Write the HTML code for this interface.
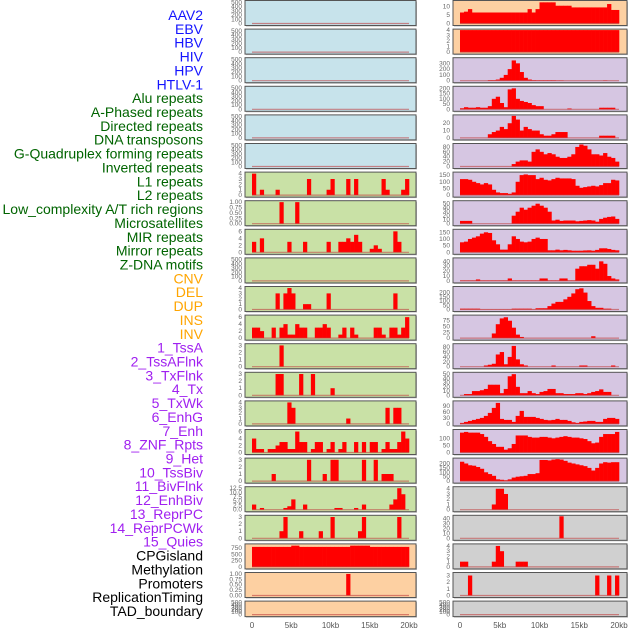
<!DOCTYPE html>
<html><head><meta charset="utf-8">
<style>
html,body{margin:0;padding:0;background:#fff;}
svg{display:block;font-family:"Liberation Sans",sans-serif;}
</style></head>
<body>
<svg id="chart" width="630" height="630" viewBox="0 0 630 630" xmlns="http://www.w3.org/2000/svg"></svg>
<script>
const labels = ["AAV2","EBV","HBV","HIV","HPV","HTLV-1","Alu repeats","A-Phased repeats","Directed repeats","DNA transposons","G-Quadruplex forming repeats","Inverted repeats","L1 repeats","L2 repeats","Low_complexity A/T rich regions","Microsatellites","MIR repeats","Mirror repeats","Z-DNA motifs","CNV","DEL","DUP","INS","INV","1_TssA","2_TssAFlnk","3_TxFlnk","4_Tx","5_TxWk","6_EnhG","7_Enh","8_ZNF_Rpts","9_Het","10_TssBiv","11_BivFlnk","12_EnhBiv","13_ReprPC","14_ReprPCWk","15_Quies","CPGisland","Methylation","Promoters","ReplicationTiming","TAD_boundary"];
const labelGroups = [6,13,5,15,5];
const groupColors = ["#1414ff","#006400","#ffa500","#a020f0","#000000"];
const xTicks = [0,5000,10000,15000,20000];
const xTickLabels = ["0","5kb","10kb","15kb","20kb"];

// Left column series (40 bins of 500 bp)
const L6 = [4,0,1,0,0,0,1,0,0,0,0,0,0,0,3,0,0,0,0,1,3,0,0,0,3,0,3,0,0,0,0,0,0,3,1,0,0,0,1,3];
const L7 = [0,0,0,0,0,0,0,1,0,0,0,1,0,0,0,0,0,0,0,0,0,0,0,0,0,0,0,0,0,0,0,0,0,0,0,0,0,0,0,0];
const L8 = [3,0,4,0,0,0,0,0,0,3,0,0,0,3,0,0,0,0,0,3,0,0,3,3,4,3,5,3,0,0,1,2,1,0,0,0,6,3,0,0];
const L10 = [0,0,0,0,0,0,3,0,3,4,3,0,0,1,1,0,0,0,0,3,0,0,0,0,0,0,0,0,0,0,0,0,0,0,0,0,3,0,0,0];
const L11 = [3,3,2,0,0,3,0,3,4,1,1,4,3,3,0,0,3,3,4,3,0,0,1,3,0,3,1,0,0,0,0,3,3,1,0,3,3,1,3,6];
const L12 = [0,0,0,0,0,0,0,3,0,0,0,0,0,0,0,0,0,0,0,0,0,0,0,0,0,0,0,0,0,0,0,0,0,0,0,0,0,0,0,0];
const L13 = [0,0,0,0,0,0,3,3,0,0,0,0,3,0,0,3,0,0,0,0,1,0,0,0,0,0,0,0,0,0,0,0,0,0,0,0,0,0,0,0];
const L14 = [0,0,0,0,0,0,0,0,0,4,3,0,0,0,0,0,0,0,0,0,0,0,0,0,1,0,0,0,0,0,0,0,0,0,3,0,3,3,0,0];
const L15 = [4,1,1,0,1,1,2,3,3,1,1,6,3,3,0,1,3,3,0,1,3,0,1,3,0,0,3,0,3,0,3,3,0,1,3,1,1,3,6,4];
const L16 = [0,0,0,0,0,1,0,0,0,0,0,0,0,0,3,0,0,0,1,0,3,3,0,0,0,0,0,0,3,0,0,3,0,1,1,1,0,0,0,0];
const L17 = [3,0,1,0,0,0,0,0,1,2,6,0,0,3,0,0,0,0,0,0,0,1,1,0,0,0,1,0,3,0,0,0,0,0,0,3,6,12.5,9,0];
const L18 = [0,0,0,0,0,0,0,1,3,0,0,0,1,0,0,0,0,1,0,0,3,0,0,0,0,0,0,1,3,0,0,0,0,0,0,0,0,3,0,0];
const L19 = [800,800,800,800,800,800,800,800,800,800,850,850,800,800,800,800,800,800,800,800,800,800,800,800,800,850,850,850,850,850,800,800,800,800,800,800,800,800,800,800];
const L20 = [0,0,0,0,0,0,0,0,0,0,0,0,0,0,0,0,0,0,0,0,0,0,0,0,1,0,0,0,0,0,0,0,0,0,0,0,0,0,0,0];

// Right column series
const R0 = [6.5,7,8.5,6.5,6.5,6.5,6.5,6.5,6.5,6.5,6.5,6.5,6.5,6.5,6.5,6.5,6.5,8.5,6.5,8.5,12.5,12.5,12.5,12.5,10.5,10.5,10.5,10.5,9.5,9.5,9.5,9.5,9.5,9.5,9.5,9.5,9.5,11.5,8,8];
const R1 = [4,4,4,4,4,4,4,4,4,4,4,4,4,4,4,4,4,4,4,4,4,4,4,4,4,4,4,4,4,4,4,4,4,4,4,4,4,4,4,4];
const R2 = [0,0,0,0,0,0,0,10,10,20,50,100,200,350,300,150,50,20,10,8,8,8,8,8,5,5,0,0,0,0,0,0,0,0,0,0,5,0,0,0];
const R3 = [10,20,15,15,20,15,15,30,100,120,60,20,190,200,100,80,70,60,40,30,30,0,0,0,0,0,0,8,0,0,0,0,0,0,0,15,15,15,15,0];
const R4 = [0,0,0,0,0,0,0,5,8,10,15,12,20,30,25,10,15,12,10,10,5,3,3,5,8,8,8,0,0,0,0,0,0,0,0,3,3,3,3,0];
const R5 = [0,0,0,0,0,0,0,0,0,0,0,0,0,10,20,25,25,20,60,70,60,50,55,50,40,35,35,40,50,80,90,85,70,50,50,45,55,40,35,20];
const R6 = [120,120,115,100,90,80,90,80,40,20,15,15,10,20,100,150,155,150,150,120,130,115,110,120,130,125,125,125,120,70,55,60,65,70,65,75,90,90,115,110];
const R7 = [7,7,7,0,0,0,0,0,0,0,0,0,0,20,30,40,35,40,45,50,45,40,30,8,10,7,8,8,8,6,7,8,9,8,5,12,15,17,18,12];
const R8 = [75,80,100,110,120,140,150,145,90,60,20,20,60,120,100,80,75,80,100,110,100,100,15,15,20,15,18,15,12,12,12,14,15,12,18,30,30,25,18,15];
const R9 = [1,1,1,1,3,1,1,1,1,1,1,1,5,1,1,1,1,1,1,1,5,5,1,1,1,5,5,1,1,25,30,30,33,33,25,40,35,10,5,3];
const R10 = [10,10,10,10,10,3,3,3,3,3,3,3,3,10,10,10,10,10,3,15,15,15,40,70,90,90,120,150,190,240,250,200,100,40,20,20,10,10,0,0];
const R11 = [0,0,0,0,0,0,0,0,20,60,85,90,75,45,15,5,0,0,0,0,0,0,0,0,0,0,0,0,0,0,0,0,0,8,0,0,0,0,0,0];
const R12 = [0,0,0,0,0,0,5,8,12,50,60,10,40,85,30,10,5,0,0,0,0,0,0,5,0,0,0,0,0,0,5,5,0,0,0,0,0,0,5,0];
const R13 = [0,3,3,10,10,12,15,25,25,25,5,15,45,50,20,5,5,10,5,3,8,10,15,15,5,5,3,3,3,5,5,3,5,8,10,14,8,8,0,0];
const R14 = [5,10,15,20,25,30,40,55,80,105,25,20,20,10,40,65,35,35,35,30,25,20,18,20,25,20,20,15,8,5,10,12,15,15,10,10,25,30,30,25];
const R15 = [140,145,140,140,140,130,110,80,60,40,40,20,30,60,120,120,120,110,105,105,110,110,105,100,105,110,115,110,105,105,100,95,80,65,70,110,130,130,130,145];
const R16 = [220,200,180,175,160,140,100,80,60,20,15,10,20,40,50,55,60,80,80,90,240,240,235,245,250,245,230,210,200,190,180,170,150,120,150,200,215,210,215,215];
const R17 = [0,0,0,0,0,0,0,0,1,4,4,3,0,0,0,0,0,0,0,0,0,0,0,0,0,0,0,0,0,0,0,0,0,0,0,0,0,0,0,0];
const R18 = [0,0,0,0,0,0,0,0,0,0,0,0,0,0,0,0,0,0,0,0,0,0,0,0,0,44,0,0,0,0,0,0,0,0,0,0,0,0,0,0];
const R19 = [1,1,0,0,0,0,0,0,1,4,3,0,0,0,1,1,1,0,0,0,0,0,0,0,0,0,0,0,0,0,0,0,0,0,0,0,0,0,0,0];
const R20 = [0,0,3,0,0,0,0,0,0,0,0,0,0,0,0,0,0,0,0,0,0,0,0,0,0,0,0,0,0,0,0,0,0,0,3,0,0,3,0,3];

const emptyTicks = [0,100,200,300,400,500];
const BLUE="#c7e3eb", GREEN="#c9e1a6", PEACH="#fdd0a2", LAV="#d6c6e2", GRAY="#d0d0d0";

// [data, ymax, ticks, tickLabels, bg]
const leftPanels = [
 [null,520,emptyTicks,null,BLUE],[null,520,emptyTicks,null,BLUE],[null,520,emptyTicks,null,BLUE],
 [null,520,emptyTicks,null,BLUE],[null,520,emptyTicks,null,BLUE],[null,520,emptyTicks,null,BLUE],
 [L6,4.1,[0,1,2,3,4],null,GREEN],
 [L7,1.02,[0,0.25,0.5,0.75,1],["0.00","0.25","0.50","0.75","1.00"],GREEN],
 [L8,6.3,[0,2,4,6],null,GREEN],
 [null,520,emptyTicks,null,GREEN],
 [L10,4.1,[0,1,2,3,4],null,GREEN],
 [L11,6.3,[0,2,4,6],null,GREEN],
 [L12,3.1,[0,1,2,3],null,GREEN],
 [L13,3.1,[0,1,2,3],null,GREEN],
 [L14,4.1,[0,1,2,3,4],null,GREEN],
 [L15,6.3,[0,2,4,6],null,GREEN],
 [L16,3.1,[0,1,2,3],null,GREEN],
 [L17,12.8,[0,2.5,5,7.5,10,12.5],["0.0","2.5","5.0","7.5","10.0","12.5"],GREEN],
 [L18,3.1,[0,1,2,3],null,GREEN],
 [L19,880,[0,250,500,750],null,PEACH],
 [L20,1.02,[0,0.25,0.5,0.75,1],["0.00","0.25","0.50","0.75","1.00"],PEACH],
 [null,520,emptyTicks,null,PEACH]
];
const rightPanels = [
 [R0,13,[0,5,10],null,PEACH],
 [R1,4,[0,1,2,3,4],null,PEACH],
 [R2,380,[0,100,200,300],null,LAV],
 [R3,210,[0,50,100,150,200],null,LAV],
 [R4,30,[0,10,20],null,LAV],
 [R5,90,[0,20,40,60,80],null,LAV],
 [R6,165,[0,50,100,150],null,LAV],
 [R7,55,[0,10,20,30,40,50],null,LAV],
 [R8,165,[0,50,100,150],null,LAV],
 [R9,45,[0,10,20,30,40],null,LAV],
 [R10,260,[0,50,100,150,200],null,LAV],
 [R11,95,[0,25,50,75],null,LAV],
 [R12,90,[0,20,40,60,80],null,LAV],
 [R13,52,[0,10,20,30,40,50],null,LAV],
 [R14,110,[0,30,60,90],null,LAV],
 [R15,155,[0,50,100],null,LAV],
 [R16,250,[0,50,100,150,200],null,LAV],
 [R17,4.2,[0,1,2,3,4],null,GRAY],
 [R18,44,[0,10,20,30,40],null,GRAY],
 [R19,4.2,[0,1,2,3,4],null,GRAY],
 [R20,3.3,[0,1,2,3],null,GRAY],
 [null,520,emptyTicks,null,GRAY]
];

const svg = document.getElementById('chart');
const NS = "http://www.w3.org/2000/svg";
function mk(tag, attrs, parent){
  const e = document.createElementNS(NS, tag);
  for (const k in attrs) e.setAttribute(k, attrs[k]);
  (parent||svg).appendChild(e);
  return e;
}

// labels
let li = 0;
labelGroups.forEach((n, g) => {
  for (let j = 0; j < n; j++, li++) {
    const t = mk('text', {x:203, y:15 + li*13.86 + 5, 'text-anchor':'end', 'font-size':14, fill:groupColors[g]});
    
    
    t.textContent = labels[li];
  }
});

function drawColumn(panels, x0, x1, dx0, dx1, colName){
  const xs = v => dx0 + (v/20000)*(dx1-dx0);
  panels.forEach((p, i) => {
    const top = i*28.6 + 0.5;
    const h = i === 21 ? 15.5 : 25;
    const bot = top + h;
    const [data, ymax, ticks, tlabels, bg] = p;
    const ys = v => bot - 2 - (Math.min(v, ymax)/ymax)*(h-3);
    const g = mk('g', {});
    
    
    mk('rect', {x:x0+1, y:top+1, width:x1-x0, height:h, fill:'#bbb'}, g);
    mk('rect', {x:x0, y:top, width:x1-x0, height:h, fill:bg, stroke:'#555', 'stroke-width':1}, g);
    if (data) {
      const bw = (dx1-dx0)/data.length;
      data.forEach((v, k) => {
        if (v <= 0) return;
        const r = mk('rect', {x:xs(k*500), y:ys(v), width:bw+0.3, height:ys(0)-ys(v), fill:'#ff0000'}, g);
        
        
      });
    }
    mk('line', {x1:xs(0), x2:xs(20000), y1:ys(0), y2:ys(0), stroke:'#c04040', 'stroke-width':1.2, opacity:0.6}, g);
    ticks.forEach((tv, k) => {
      const t = mk('text', {x:x0-3, y:ys(tv)+2, 'text-anchor':'end', 'font-size':6.5, fill:'#666'}, g);
      
      
      t.textContent = tlabels ? tlabels[k] : String(tv);
    });
  });
  xTicks.forEach((v, k) => {
    const t = mk('text', {x:xs(v), y:628, 'text-anchor':'middle', 'font-size':8, fill:'#555'});
    
    
    t.textContent = xTickLabels[k];
  });
}
drawColumn(leftPanels, 245, 416, 252, 409, 'left');
drawColumn(rightPanels, 453, 627, 460, 619, 'right');
</script>
</body></html>
